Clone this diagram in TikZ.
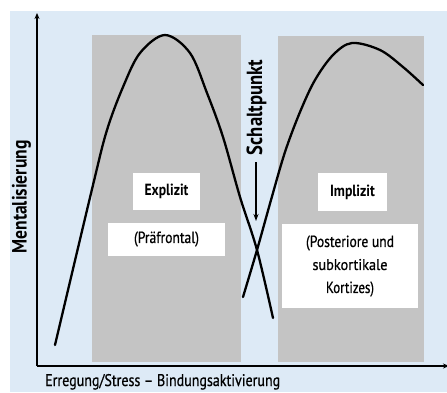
\documentclass[tikz,border=0pt]{standalone}
\usepackage{fontspec}
\setmainfont{PT Sans}[FakeStretch=0.85]
\newfontfamily\medfont{PT Sans}[FakeStretch=0.85, FakeBold=0.7]
\usetikzlibrary{arrows.meta}
\definecolor{bgblue}{RGB}{221,234,246}
\definecolor{zone}{RGB}{196,196,196}
\newcommand{\fitw}[2]{\resizebox{#1}{!}{#2}}
\newcommand{\fitwh}[3]{\resizebox{#1}{#2}{#3}}
\tikzset{
  zonebox/.style={fill=zone, draw=none, inner sep=0pt, anchor=north west},
  labelbox/.style={fill=white, draw=none, inner sep=0pt, align=center, font=\fontsize{14}{23}\selectfont},
  curve/.style={line width=2.3pt, line cap=round},
  axis/.style={line width=1.6pt, -{Stealth[length=6pt,width=5pt]}},
  txt/.style={inner sep=0pt, font=\fontsize{14}{16}\selectfont},
}
\begin{document}
\begin{tikzpicture}[x=1pt,y=-1pt]
\useasboundingbox (0,0) rectangle (447,392);
\fill[bgblue] (10,11) rectangle (447,392);
% zones
\node[zonebox, minimum width=149pt, minimum height=327pt] (zl) at (92,35) {};
\node[zonebox, minimum width=146pt, minimum height=326pt] (zr) at (278,36) {};
% label boxes
\node[labelbox, minimum width=67pt, minimum height=37pt] (expl) at (166.5,191.5) {\fitwh{44pt}{11.5pt}{\bfseries Explizit}};
\node[labelbox, minimum width=117pt, minimum height=33pt] (praef) at (166.5,239) {\fitwh{65pt}{11.5pt}{\medfont (Präfrontal)}};
\node[labelbox, minimum width=69pt, minimum height=38pt] (impl) at (352.5,192) {\fitwh{45pt}{11.5pt}{\bfseries Implizit}};
\node[labelbox, minimum width=136pt, minimum height=84pt] (post) at (350,266)
  {\fitwh{88pt}{11.5pt}{\medfont (Posteriore und}\\\fitwh{75pt}{11pt}{\medfont subkortikale}\\\fitwh{48pt}{11.5pt}{\medfont Kortizes)}};
% axes
\coordinate (o) at (37,366);
\coordinate (ytop) at (37,13);
\coordinate (xend) at (449,366);
\draw[axis] (o) -- (ytop);
\draw[axis] (o) -- (xend);
% curves
\draw[curve] plot[smooth, tension=0.55] coordinates {(55,345) (93,185) (107,130) (123,87) (140,53) (165,35) (190,53) (207,93) (223,137) (240,197) (257,250) (273,318)};
\draw[curve] plot[smooth, tension=0.55] coordinates {(243,297) (257,250) (271,200) (285,152) (300,112) (315,80) (333,55) (352,43) (380,50) (403,67) (423,85)};
% Schaltpunkt
\node[txt, rotate=90] (sp) at (256.5,107.5) {\fitw{95pt}{\bfseries Schaltpunkt}};
\coordinate (sptip) at (256,221);
\draw[line width=1.4pt, -{Stealth[length=7pt,width=5pt]}] (256,162) -- (sptip);
% axis labels
\node[txt, rotate=90] (ylab) at (21.5,197) {\fitw{113pt}{\bfseries Mentalisierung}};
\node[txt, anchor=base west] (xlab) at (45,386) {\fitwh{235pt}{12pt}{\medfont Erregung/Stress – Bindungsaktivierung}};
\end{tikzpicture}
\end{document}
